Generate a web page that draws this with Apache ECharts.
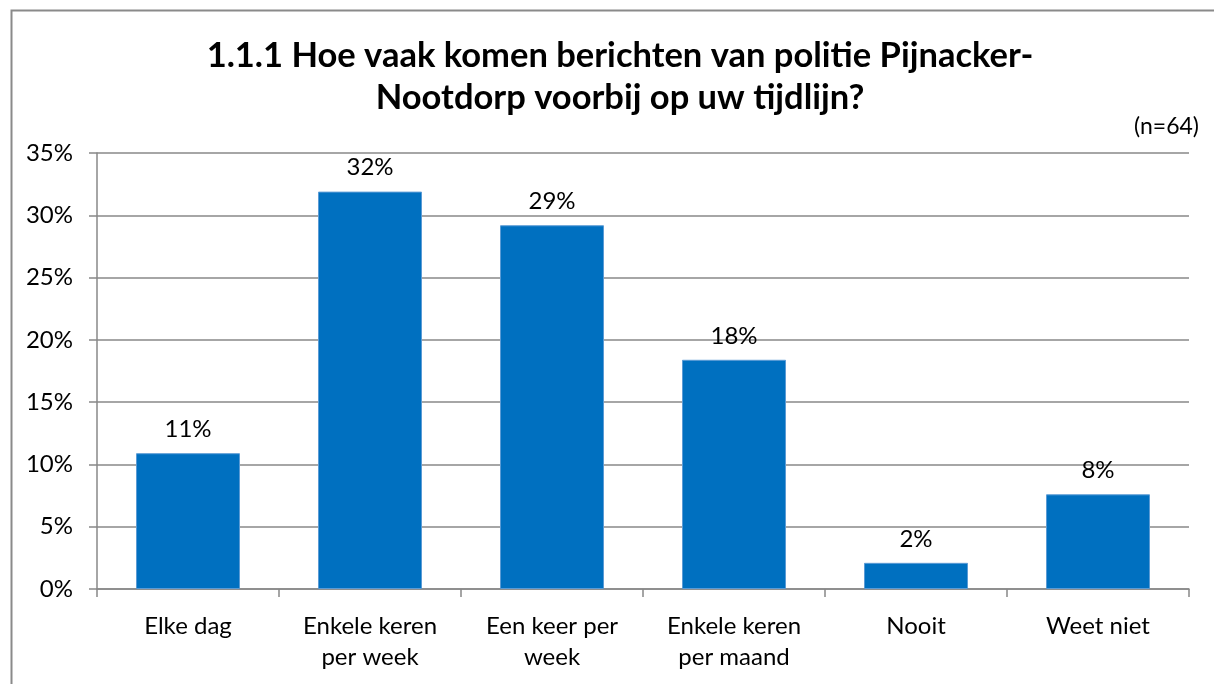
<!DOCTYPE html>
<html>
<head>
<meta charset="utf-8">
<title>1.1.1 Hoe vaak komen berichten van politie Pijnacker-Nootdorp voorbij</title>
<script src="https://cdn.jsdelivr.net/npm/echarts@6/dist/echarts.min.js"></script>
<style>
  html, body { margin: 0; padding: 0; background: #fff; }
  #chart { width: 1214px; height: 684px; }
</style>
</head>
<body>
<div id="chart"></div>
<script>
  // data (percentages)
  const categories = ['Elke dag', 'Enkele keren\nper week', 'Een keer per\nweek', 'Enkele keren\nper maand', 'Nooit', 'Weet niet']
  const values = [10.9, 31.9, 29.2, 18.4, 2.1, 7.6]
  const yTicks = [0, 5, 10, 15, 20, 25, 30, 35]
  const titleText = '1.1.1 Hoe vaak komen berichten van politie Pijnacker-\nNootdorp voorbij op uw tijdlijn?'
  const noteText = '(n=64)'

  const font = 'Lato, "Open Sans", sans-serif'
  const chart = echarts.init(document.getElementById('chart'))

  chart.setOption({
    animation: false,
    backgroundColor: '#fff',
    textStyle: { fontFamily: font, color: '#000' },
    title: {
      text: titleText,
      left: 615,
      textAlign: 'center',
      top: 30,
      textStyle: {
        fontFamily: font,
        fontSize: 34.5,
        fontWeight: 'bold',
        color: '#000',
        lineHeight: 42
      }
    },
    graphic: [
      {
        type: 'rect',
        left: 9,
        top: 8,
        shape: { width: 1300, height: 800 },
        style: { fill: 'none', stroke: '#8a8a8a', lineWidth: 2 },
        silent: true
      },
      {
        type: 'text',
        right: 15,
        top: 115,
        style: { text: noteText, font: '23px ' + font, fill: '#000' }
      }
    ],
    grid: {
      left: 97,
      right: 25,
      top: 153,
      bottom: 95
    },
    xAxis: {
      type: 'category',
      data: categories,
      axisLine: { lineStyle: { color: '#888', width: 1.5 } },
      axisTick: { show: true, length: 8, lineStyle: { color: '#888', width: 1.5 } },
      axisLabel: {
        fontFamily: font,
        fontSize: 24,
        color: '#000',
        margin: 22,
        lineHeight: 31,
        interval: 0
      }
    },
    yAxis: {
      type: 'value',
      min: yTicks[0],
      max: yTicks[yTicks.length - 1],
      interval: 5,
      axisLine: { show: true, lineStyle: { color: '#888', width: 1.5 } },
      axisTick: { show: true, length: 8, lineStyle: { color: '#888', width: 1.5 } },
      splitLine: { lineStyle: { color: '#888', width: 1.5 } },
      axisLabel: {
        fontFamily: font,
        fontSize: 24,
        color: '#000',
        margin: 24,
        formatter: v => v + '%'
      }
    },
    series: [
      {
        type: 'bar',
        data: values,
        barWidth: 104,
        itemStyle: { color: '#0070C0', borderColor: '#5B9BD5', borderWidth: 1 },
        label: {
          show: true,
          position: 'top',
          distance: 12,
          fontFamily: font,
          fontSize: 24,
          color: '#000',
          formatter: p => Math.round(p.value) + '%'
        }
      }
    ]
  })
</script>
</body>
</html>
